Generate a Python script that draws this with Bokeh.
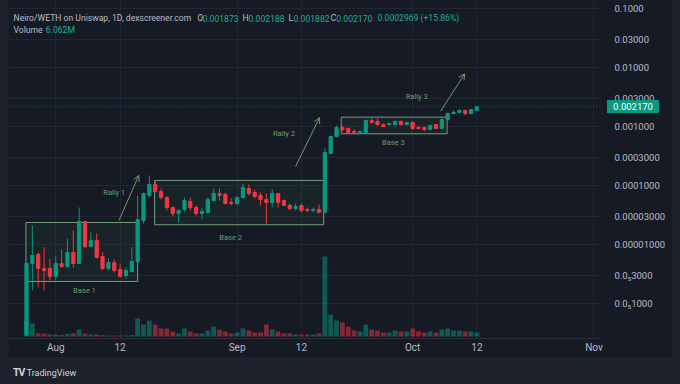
import pandas as pd
from bokeh.plotting import figure
from bokeh.models import (Range1d, LinearScale, FixedTicker, BoxAnnotation, Label,
                          Arrow, OpenHead, Span, Div, Spacer, ColumnDataSource)
from bokeh.layouts import column, row
from bokeh.embed import file_html
from bokeh.resources import INLINE

# ---------------- data ----------------
start_date = "2024-07-27"

opens = [2.9e-7, 4.76e-6, 6.77e-6, 3.92e-6, 3.92e-6, 2.87e-6, 4.76e-6, 4.24e-6, 7.32e-6, 4.76e-6,
         2.45e-5, 9.25e-6, 1.17e-5, 6.26e-6, 3.92e-6, 4.95e-6, 3.77e-6, 2.98e-6, 3.49e-6, 5.15e-6,
         2.55e-5, 6.77e-5, 1.04e-4, 7.91e-5, 6.26e-5, 4.24e-5, 3.35e-5, 3.92e-5, 5.36e-5, 4.24e-5,
         3.35e-5, 3.49e-5, 5.57e-5, 7.32e-5, 7.04e-5, 5.15e-5, 4.95e-5, 6.26e-5, 8.90e-5, 7.61e-5,
         6.77e-5, 5.79e-5, 5.15e-5, 7.32e-5, 5.57e-5, 4.58e-5, 4.07e-5, 4.58e-5, 3.92e-5, 3.77e-5,
         3.92e-5, 3.49e-5, 3.49e-4, 6.77e-4, 9.62e-4, 9.25e-4, 8.23e-4, 7.91e-4, 7.91e-4, 1.26e-3,
         1.22e-3, 1.08e-3, 1.08e-3, 1.08e-3, 1.22e-3, 1.08e-3, 1.17e-3, 9.62e-4, 9.62e-4, 8.90e-4,
         1.08e-3, 9.25e-4, 1.31e-3, 1.66e-3, 1.73e-3, 1.87e-3, 1.66e-3, 0.001873]
highs = [4.9e-6, 2.10e-5, 7.32e-6, 8.9e-6, 5.79e-6, 6.51e-6, 8.23e-6, 1.26e-5, 1.73e-5, 4.24e-5,
         2.45e-5, 1.60e-5, 1.54e-5, 7.32e-6, 5.79e-6, 5.57e-6, 4.76e-6, 4.07e-6, 8.9e-6, 6.77e-5,
         7.61e-5, 1.48e-4, 1.22e-4, 8.90e-5, 6.51e-5, 4.40e-5, 3.92e-5, 6.26e-5, 6.26e-5, 4.58e-5,
         4.24e-5, 6.26e-5, 8.90e-5, 8.90e-5, 7.61e-5, 6.02e-5, 6.51e-5, 1.08e-4, 1.04e-4, 8.55e-5,
         7.61e-5, 7.32e-5, 8.55e-5, 7.32e-5, 5.79e-5, 4.95e-5, 4.95e-5, 4.95e-5, 4.24e-5, 4.24e-5,
         4.76e-5, 4.24e-4, 7.04e-4, 1.04e-3, 1.04e-3, 9.62e-4, 8.90e-4, 8.55e-4, 1.31e-3, 1.37e-3,
         1.37e-3, 1.12e-3, 1.17e-3, 1.26e-3, 1.26e-3, 1.19e-3, 1.22e-3, 1.04e-3, 1.00e-3, 1.08e-3,
         1.10e-3, 1.37e-3, 1.73e-3, 1.87e-3, 1.94e-3, 1.94e-3, 1.98e-3, 0.002188]
lows = [2.9e-7, 1.66e-6, 1.87e-6, 1.66e-6, 2.45e-6, 2.45e-6, 4.07e-6, 4.07e-6, 4.07e-6, 4.76e-6,
        8.55e-6, 8.9e-6, 5.79e-6, 3.62e-6, 3.62e-6, 3.35e-6, 2.76e-6, 2.65e-6, 3.35e-6, 4.95e-6,
        2.27e-5, 6.26e-5, 7.61e-5, 5.79e-5, 3.77e-5, 2.98e-5, 2.36e-5, 3.62e-5, 3.77e-5, 3.10e-5,
        2.65e-5, 3.35e-5, 5.36e-5, 5.57e-5, 4.76e-5, 4.58e-5, 4.58e-5, 6.02e-5, 6.77e-5, 6.02e-5,
        4.58e-5, 2.27e-5, 4.24e-5, 4.24e-5, 4.40e-5, 3.77e-5, 3.77e-5, 3.49e-5, 3.49e-5, 3.49e-5,
        3.35e-5, 3.49e-5, 3.49e-4, 6.51e-4, 8.23e-4, 7.61e-4, 7.61e-4, 7.61e-4, 7.91e-4, 1.12e-3,
        1.04e-3, 0.98e-3, 1.04e-3, 1.04e-3, 1.04e-3, 1.04e-3, 8.90e-4, 8.90e-4, 8.23e-4, 8.55e-4,
        9.00e-4, 9.00e-4, 1.26e-3, 1.60e-3, 1.66e-3, 1.54e-3, 1.60e-3, 0.001882]
closes = [4.8e-6, 6.51e-6, 3.92e-6, 3.62e-6, 2.87e-6, 4.76e-6, 4.24e-6, 7.32e-6, 4.76e-6, 2.45e-5,
          9.25e-6, 1.17e-5, 6.02e-6, 3.92e-6, 4.95e-6, 3.62e-6, 2.87e-6, 3.62e-6, 5.15e-6, 2.65e-5,
          7.32e-5, 1.04e-4, 7.91e-5, 6.26e-5, 4.24e-5, 3.35e-5, 3.77e-5, 5.57e-5, 4.24e-5, 3.35e-5,
          3.62e-5, 5.79e-5, 7.32e-5, 6.77e-5, 4.95e-5, 4.95e-5, 6.26e-5, 9.25e-5, 7.32e-5, 6.51e-5,
          5.79e-5, 5.15e-5, 7.32e-5, 5.15e-5, 4.58e-5, 4.07e-5, 4.40e-5, 3.77e-5, 3.77e-5, 3.92e-5,
          3.49e-5, 3.62e-4, 6.77e-4, 9.62e-4, 8.90e-4, 7.91e-4, 7.91e-4, 8.23e-4, 1.26e-3, 1.17e-3,
          1.08e-3, 1.00e-3, 1.12e-3, 1.22e-3, 1.08e-3, 1.17e-3, 9.25e-4, 9.25e-4, 8.90e-4, 1.04e-3,
          9.25e-4, 1.31e-3, 1.66e-3, 1.73e-3, 1.87e-3, 1.66e-3, 1.94e-3, 0.002170]
volumes_m = [24, 19.5, 4.5, 4.5, 3, 3, 2.2, 3.8, 4.5, 10.5,
             4.5, 3, 3, 2.2, 1.5, 1.5, 1.5, 1.5, 2.2, 27,
             18, 24, 18, 12, 12, 7.5, 4.5, 12, 7.5, 4.5,
             4.5, 9, 15, 10.5, 7.5, 4.5, 6, 12, 9, 6,
             6, 18, 10.5, 7.5, 4.5, 4.5, 3, 3, 3, 3,
             4.5, 120, 33, 24, 21, 15, 9, 7.5, 18, 10.5,
             9, 6, 6, 9, 7.5, 7.5, 12, 7.5, 6, 7.5,
             6, 10.5, 12, 9, 9, 7.5, 7.5, 6.062]

tick_dates = ["2024-08-01", "2024-08-12", "2024-09-01", "2024-09-12",
              "2024-10-01", "2024-10-12", "2024-11-01"]
tick_labels = ["Aug", "12", "Sep", "12", "Oct", "12", "Nov"]

price_ticks = [0.1, 0.03, 0.01, 0.003, 0.001, 0.0003, 0.0001, 0.00003, 0.00001, 0.000003, 0.000001]
price_tick_labels = ["0.1000", "0.03000", "0.01000", "0.003000", "0.001000", "0.0003000", "0.0001000",
                     "0.00003000", "0.00001000", "0.0\u20853000", "0.0\u20851000"]

# drawn annotations (day offset from start, price)
base_names = ["Base 1", "Base 2", "Base 3"]
base_from = [-0.1, 21.9, 53.8]
base_to = [19.0, 50.8, 71.9]
base_low = [2.36e-6, 2.16e-5, 7.52e-4]
base_high = [2.36e-5, 1.22e-4, 1.44e-3]
base_label_x = [9.9, 34.9, 62.7]
base_label_y = [1.66e-6, 1.33e-5, 5.42e-4]

rally_names = ["Rally 1", "Rally 2", "Rally 3"]
rally_label_x = [15.0, 44.0, 66.7]
rally_label_y = [7.61e-5, 7.61e-4, 3.22e-3]
rally_x0 = [15.8, 46.0, 70.8]
rally_y0 = [2.55e-5, 2.10e-4, 1.82e-3]
rally_x1 = [19.2, 50.1, 74.9]
rally_y1 = [1.48e-4, 1.42e-3, 7.82e-3]

header_main = "Neiro/WETH on Uniswap, 1D, dexscreener.com"
header_change = "0.0002969 (+15.86%)"

# ---------------- styling ----------------
BG = "#161a25"
FRAME = "#1e222d"
GRID = "#222632"
TXT = "#b9bcc5"
UP = "#089981"
DOWN = "#f23645"
TEAL_TXT = "#22ab94"
ANN = "#6a9e6a"
FONT = "Roboto"

t0 = pd.Timestamp(start_date)
n = len(closes)
xs = list(range(n))
up = [c >= o for o, c in zip(opens, closes)]
colors = [UP if u else DOWN for u in up]
src = ColumnDataSource(dict(
    x=xs, o=opens, h=highs, l=lows, c=closes,
    top=[max(o, c) for o, c in zip(opens, closes)],
    bottom=[min(o, c) for o, c in zip(opens, closes)],
    color=colors, vol=volumes_m))

tick_idx = [(pd.Timestamp(d) - t0).days for d in tick_dates]

x_start, x_end = -3.077, 98.12
p = figure(width=664, height=357,
           x_range=Range1d(x_start, x_end), y_range=Range1d(2.55e-7, 0.1366),
           y_axis_type="log", y_axis_location="right",
           output_backend="svg", toolbar_location=None,
           min_border_left=0, min_border_right=72, min_border_top=0, min_border_bottom=19,
           background_fill_color=BG, border_fill_color=BG, outline_line_color=None)

p.extra_y_ranges = {"vol": Range1d(-3, 504)}
p.extra_y_scales = {"vol": LinearScale()}

# grid
p.xgrid.ticker = FixedTicker(ticks=tick_idx)
p.xgrid.grid_line_color = GRID
p.ygrid.grid_line_color = GRID

# axes
p.xaxis.ticker = FixedTicker(ticks=tick_idx)
p.xaxis.major_label_overrides = {t: lab for t, lab in zip(tick_idx, tick_labels)}
p.xaxis.major_tick_line_color = None
p.xaxis.minor_tick_line_color = None
p.xaxis.major_tick_out = 0
p.xaxis.major_tick_in = 0
p.xaxis.axis_line_color = "#2a2e39"
p.xaxis.major_label_standoff = 3
p.xaxis.major_label_text_color = TXT
p.xaxis.major_label_text_font = FONT
p.xaxis.major_label_text_font_size = "10px"

p.yaxis.ticker = FixedTicker(ticks=price_ticks)
p.yaxis.major_label_overrides = {t: lab for t, lab in zip(price_ticks, price_tick_labels)}
p.yaxis.major_tick_line_color = None
p.yaxis.minor_tick_line_color = None
p.yaxis.major_tick_out = 0
p.yaxis.major_tick_in = 0
p.yaxis.axis_line_color = None
p.yaxis.major_label_standoff = 14
p.yaxis.major_label_text_color = TXT
p.yaxis.major_label_text_font = FONT
p.yaxis.major_label_text_font_size = "9.5px"

# base boxes (under candles)
for b0, b1, lo, hi in zip(base_from, base_to, base_low, base_high):
    p.add_layout(BoxAnnotation(left=b0, right=b1, bottom=lo, top=hi,
                               fill_color="#4caf50", fill_alpha=0.07,
                               line_color="#7fae7f", line_alpha=0.9, line_width=1,
                               level="underlay"))

# volume
p.vbar(x="x", top="vol", bottom=0, width=0.82, source=src, y_range_name="vol",
       fill_color="color", fill_alpha=0.5, line_color=None)

# candles
p.segment(x0="x", y0="h", x1="x", y1="l", source=src, line_color="color", line_width=1)
p.vbar(x="x", top="top", bottom="bottom", width=0.55, source=src,
       fill_color="color", line_color="color", line_width=1)

# current price line
last = closes[-1]
p.add_layout(Span(location=last, dimension="width", line_color=UP, line_alpha=0.45,
                  line_width=1, line_dash="1 2"))

# base / rally labels and arrows
for name, bx, by in zip(base_names, base_label_x, base_label_y):
    p.add_layout(Label(x=bx, y=by, text=name, text_align="center", text_baseline="middle",
                       text_color=ANN, text_font=FONT, text_font_size="7.5px"))
for name, rx, ry in zip(rally_names, rally_label_x, rally_label_y):
    p.add_layout(Label(x=rx, y=ry, text=name, text_align="center", text_baseline="middle",
                       text_color=ANN, text_font=FONT, text_font_size="7.5px"))
for a0, b0, a1, b1 in zip(rally_x0, rally_y0, rally_x1, rally_y1):
    p.add_layout(Arrow(x_start=a0, y_start=b0, x_end=a1, y_end=b1,
                       line_color=ANN, line_width=1,
                       end=OpenHead(size=6, line_color=ANN, line_width=1)))

# header (legend line)
hy1, hy2 = 0.0677, 0.0424
header_parts = [
    (header_main, -2.22, hy1, TXT),
    ("O", 29.18, hy1, TXT), (f"{opens[-1]:.6f}", 30.09, hy1, TEAL_TXT),
    ("H", 36.92, hy1, TXT), (f"{highs[-1]:.6f}", 37.95, hy1, TEAL_TXT),
    ("L", 44.79, hy1, TXT), (f"{lows[-1]:.6f}", 45.64, hy1, TEAL_TXT),
    ("C", 51.97, hy1, TXT), (f"{closes[-1]:.6f}", 52.95, hy1, TEAL_TXT),
    (header_change, 60.0, hy1, TEAL_TXT),
    ("Volume", -2.22, hy2, TXT), (f"{volumes_m[-1]:.3f}M", 3.3, hy2, TEAL_TXT),
]
for txt, hx, hy, col in header_parts:
    p.add_layout(Label(x=hx, y=hy, text=txt, text_align="left", text_baseline="middle",
                       text_color=col, text_font=FONT, text_font_size="8.6px"))

footer = Div(text='<span style="position:relative;top:5px;left:8px;">'
                  '<b style="font-size:10.5px;letter-spacing:-1px;">TV</b>&nbsp;TradingView</span>',
             width=680, height=27,
             styles={"background-color": FRAME, "color": "#d1d4dc",
                     "font-family": "Roboto, sans-serif", "font-size": "9px",
                     "line-height": "12px"})

layout = column(row(Spacer(width=8, height=357), p, Spacer(width=8, height=357), spacing=0),
                footer, spacing=0)
html = file_html(layout, INLINE, title="Neiro/WETH")

# current-price tag on the price scale (outside the plot frame)
price_tag = ('<div style="position:absolute;left:607px;top:100px;width:52px;height:13px;'
             'background:%s;color:#ffffff;font-family:Roboto,sans-serif;font-size:9.5px;'
             'line-height:13px;text-align:center;z-index:10;">%s</div>' % (UP, f"{last:.6f}"))
i = html.rfind("<body")
if i >= 0:
    j = html.find(">", i)
    html = (html[:i] + '<body style="background-color:%s;">' % FRAME + price_tag
            + html[j + 1:])
open("out.html", "w").write(html)
